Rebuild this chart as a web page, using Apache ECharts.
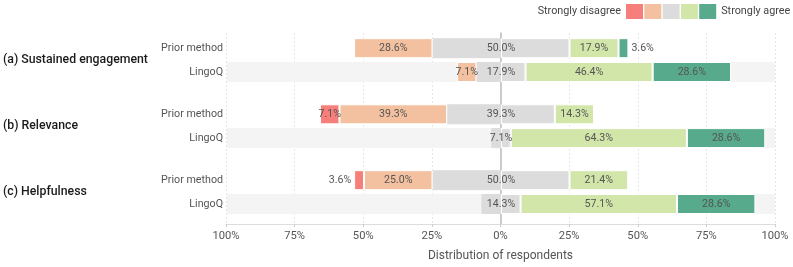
<!DOCTYPE html>
<html>
<head>
<meta charset="utf-8">
<script src="https://cdn.jsdelivr.net/npm/echarts@6/dist/echarts.min.js"></script>
<style>
html,body{margin:0;padding:0;background:#fff;}
#chart{width:793px;height:267px;}
</style>
</head>
<body>
<div id="chart"></div>
<script>
// ---- data ----
const groups = ['(a) Sustained engagement', '(b) Relevance', '(c) Helpfulness'];
const methods = ['Prior method', 'LingoQ'];
const levels = ['Strongly disagree', 'Disagree', 'Neutral', 'Agree', 'Strongly agree'];
// per group: [Prior method, LingoQ]
const stronglyDisagree = [[0, 0], [7.1, 0], [3.6, 0]];
const disagree         = [[28.6, 7.1], [39.3, 0], [25.0, 0]];
const neutral          = [[50.0, 17.9], [39.3, 7.1], [50.0, 14.3]];
const agree            = [[17.9, 46.4], [14.3, 64.3], [21.4, 57.1]];
const stronglyAgree    = [[3.6, 28.6], [0, 28.6], [0, 28.6]];
const highlightRow = [false, true]; // shaded band behind LingoQ rows
const xTickValues = [-100, -75, -50, -25, 0, 25, 50, 75, 100];
const xTitle = 'Distribution of respondents';

// ---- styling ----
const colors = ['#f67f7b', '#f3c19f', '#dcdcdc', '#d3e6aa', '#57aa8b'];
const FONT = 'Roboto, "Noto Sans", sans-serif';
const labelColor = '#555';
const gridLeft = 226, gridRight = 18;
const groupTops = [36.3, 102.4, 168.3];
const groupHeight = 47.6;

const chart = echarts.init(document.getElementById('chart'), null, {renderer: 'canvas'});

const fmt = v => v.toFixed(1) + '%';
const grids = [], xAxes = [], yAxes = [], series = [];

groups.forEach((g, gi) => {
  grids.push({left: gridLeft, right: gridRight, top: groupTops[gi], height: groupHeight, containLabel: false});
  xAxes.push({type: 'value', gridIndex: gi, min: -100, max: 100, interval: 25, show: false});
  yAxes.push({
    type: 'category', gridIndex: gi, data: methods, inverse: true,
    axisLine: {show: false}, axisTick: {show: false}, splitLine: {show: false},
    axisLabel: {color: labelColor, fontFamily: FONT, fontSize: 10.7, margin: 4},
    name: g, nameLocation: 'middle', nameRotate: 0, nameGap: gridLeft - 2,
    nameTextStyle: {align: 'left', verticalAlign: 'middle', color: '#1a1a1a', fontFamily: FONT, fontSize: 12.3, fontWeight: 500}
  });
  const common = {type: 'bar', xAxisIndex: gi, yAxisIndex: gi, barWidth: 20, barGap: '-100%'};
  // shaded background bands
  series.push(Object.assign({}, common, {
    name: 'band', stack: 'band' + gi, silent: true, z: 1,
    itemStyle: {color: '#f4f4f4'},
    data: methods.map((m, i) => highlightRow[i] ? -100 : '-')
  }));
  series.push(Object.assign({}, common, {
    name: 'band', stack: 'band' + gi, silent: true, z: 1,
    itemStyle: {color: '#f4f4f4'},
    data: methods.map((m, i) => highlightRow[i] ? 100 : '-')
  }));
  const border = {borderColor: '#fff', borderWidth: 1};
  const mk = (name, colIdx, vals, sign, labelMode) => {
    series.push(Object.assign({}, common, {
      name: name, stack: 'likert' + gi, z: 3,
      itemStyle: Object.assign({color: colors[colIdx]}, labelMode === 'none' ? {borderColor: colors[colIdx], borderWidth: 1} : border),
      data: vals.map((v, i) => {
        if (!v) return '-';
        const item = {value: sign * (labelMode === 'half' || labelMode === 'none' ? v / 2 : v)};
        let lab;
        if (labelMode === 'none') lab = {show: false};
        else if (labelMode === 'half') lab = {show: true, position: [0, '50%'], align: 'center', verticalAlign: 'middle', formatter: fmt(v)};
        else if (v < 5) lab = {show: true, position: sign < 0 ? 'left' : 'right', distance: 3, formatter: fmt(v)};
        else lab = {show: true, position: 'inside', formatter: fmt(v)};
        item.label = Object.assign({color: labelColor, fontFamily: FONT, fontSize: 10.6}, lab);
        return item;
      })
    }));
  };
  // negative side (stacked outward from 0), then positive side
  mk(levels[2], 2, neutral[gi], -1, 'none');
  mk(levels[1], 1, disagree[gi], -1, 'full');
  mk(levels[0], 0, stronglyDisagree[gi], -1, 'full');
  mk(levels[2], 2, neutral[gi], 1, 'half');
  mk(levels[3], 3, agree[gi], 1, 'full');
  mk(levels[4], 4, stronglyAgree[gi], 1, 'full');
});

// background grid carrying the shared x axis, gridlines and zero line
grids.push({left: gridLeft, right: gridRight, top: 33, bottom: 267 - 226.3});
xAxes.push({
  type: 'value', gridIndex: 3, min: xTickValues[0], max: xTickValues[xTickValues.length - 1],
  interval: xTickValues[1] - xTickValues[0],
  axisLine: {show: true, lineStyle: {color: '#dddddd', width: 1}},
  axisTick: {show: true, length: 3, lineStyle: {color: '#cccccc'}},
  axisLabel: {color: labelColor, fontFamily: FONT, fontSize: 11.2, margin: 7,
              formatter: v => Math.abs(v) + '%'},
  splitLine: {show: true, lineStyle: {color: '#e6e6e6', type: [2, 2], width: 1}},
  name: xTitle, nameLocation: 'middle', nameGap: 26,
  nameTextStyle: {color: labelColor, fontFamily: FONT, fontSize: 12}
});
yAxes.push({
  type: 'value', gridIndex: 3, min: 0, max: 1,
  axisLine: {show: true, onZero: true, lineStyle: {color: '#bcbcbc', width: 1.5}},
  axisTick: {show: false}, axisLabel: {show: false}, splitLine: {show: false}
});

// legend: label, five swatches, label
const swatchX = [626, 644.3, 662.6, 680.9, 699.2];
const legendBase = {orient: 'horizontal', itemWidth: 17, itemHeight: 15, top: 4, padding: 0,
  selectedMode: false, icon: 'rect', itemStyle: {borderWidth: 0},
  textStyle: {color: '#444', fontFamily: FONT, fontSize: 10.8}};
const legends = levels.map((lv, i) => {
  const l = Object.assign({}, legendBase, {data: [lv]});
  if (i === 0) { l.align = 'right'; l.right = 793 - swatchX[0] - 17; }
  else { l.left = swatchX[i]; l.align = 'left'; }
  if (i !== 0 && i !== levels.length - 1) l.formatter = () => '';
  return l;
});

chart.setOption({
  animation: false,
  backgroundColor: '#fff',
  textStyle: {fontFamily: FONT},
  grid: grids,
  xAxis: xAxes,
  yAxis: yAxes,
  legend: legends,
  series: series
});
</script>
</body>
</html>
